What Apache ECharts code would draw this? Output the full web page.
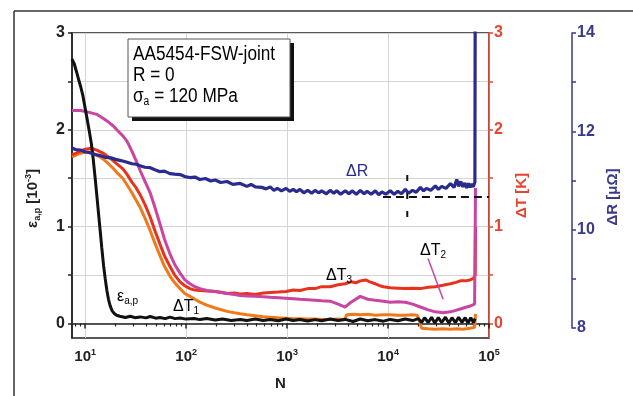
<!DOCTYPE html>
<html>
<head>
<meta charset="utf-8">
<script src="https://cdn.jsdelivr.net/npm/echarts@6/dist/echarts.min.js"></script>
<style>
  html, body { margin: 0; padding: 0; background: #fff; }
  #chart { width: 633px; height: 396px; }
</style>
</head>
<body>
<div id="chart"></div>
<script>
// ---- tick values ----
const decadeTicks = [10, 100, 1000, 10000, 100000];
const minorTicksN = [8, 9, 20, 30, 40, 50, 60, 70, 80, 90, 200, 300, 400, 500, 600, 700, 800, 900,
  2000, 3000, 4000, 5000, 6000, 7000, 8000, 9000, 20000, 30000, 40000, 50000, 60000, 70000, 80000, 90000];
const strainTicks = [0, 1, 2, 3];
const strainMinorTicks = [0, 0.5, 1, 1.5, 2, 2.5, 3];
const resistTicks = [8, 10, 12, 14];
const resistMinorTicks = [8, 9, 10, 11, 12, 13, 14];

// ---- series: [N, value] ----
const strainData = [
  [7.4, 2.73], [7.8, 2.68], [8.2, 2.6], [8.6, 2.52], [9, 2.45], [9.5, 2.35], [10, 2.22], [10.5, 2.1],
  [11, 1.98], [11.5, 1.86], [12, 1.7], [12.5, 1.52], [13.1, 1.3], [13.6, 1.12], [14.1, 0.95], [14.6, 0.78],
  [15.2, 0.6], [15.8, 0.46], [16.4, 0.34], [17, 0.25], [17.7, 0.18], [18.5, 0.13], [19.5, 0.1], [20.5, 0.085],
  [22, 0.075], [25, 0.062], [28, 0.075], [31, 0.06], [35, 0.068], [40, 0.058], [44, 0.072], [50, 0.055],
  [55, 0.062], [62, 0.05], [69, 0.066], [78, 0.05], [87, 0.056], [100, 0.045], [120, 0.052], [137, 0.04],
  [160, 0.052], [194, 0.035], [230, 0.047], [280, 0.03], [343, 0.042], [400, 0.03], [484, 0.046],
  [580, 0.03], [680, 0.042], [820, 0.028], [976, 0.046], [1150, 0.03], [1340, 0.042], [1600, 0.025],
  [1890, 0.04], [2200, 0.028], [2670, 0.046], [3200, 0.03], [3760, 0.042], [4500, 0.02], [5300, 0.046],
  [6300, 0.028], [7470, 0.04], [9000, 0.024], [10500, 0.042], [12500, 0.028], [14800, 0.046],
  [17500, 0.03], [20000, 0.05], [21500, 0.01], [23000, 0.06], [25000, 0.01], [27000, 0.065], [29000, 0.005],
  [31500, 0.06], [34000, 0.01], [37000, 0.065], [40000, 0.005], [43000, 0.06], [46500, 0.01], [50000, 0.065],
  [54000, 0.01], [58000, 0.06], [62000, 0.005], [66000, 0.06], [70000, 0.01], [73000, 0.05]
];
const dT1Data = [
  [7.4, 1.72], [8.5, 1.75], [10, 1.77], [11.5, 1.77], [13, 1.74], [15, 1.7], [17, 1.65], [19, 1.6],
  [21, 1.55], [23.5, 1.5], [26, 1.43], [29, 1.35], [32, 1.27], [35, 1.2], [39, 1.09], [44, 0.96],
  [49, 0.83], [55, 0.7], [61, 0.59], [69, 0.49], [77, 0.42], [87, 0.36], [97, 0.31], [109, 0.28],
  [122, 0.25], [137, 0.22], [160, 0.19], [194, 0.16], [254, 0.125], [300, 0.11], [343, 0.1], [400, 0.09],
  [484, 0.08], [580, 0.07], [680, 0.065], [820, 0.058], [976, 0.055], [1150, 0.05], [1340, 0.05],
  [1600, 0.045], [1890, 0.045], [2200, 0.04], [2670, 0.04], [3300, 0.045], [3700, 0.04], [3900, 0.09],
  [4600, 0.095], [5300, 0.09], [6300, 0.095], [7470, 0.085], [9000, 0.09], [10500, 0.09], [12500, 0.085],
  [14800, 0.085], [17500, 0.09], [19500, 0.085], [20500, 0.02], [21500, -0.05], [25000, -0.055],
  [29400, -0.06], [35000, -0.055], [41500, -0.06], [48000, -0.055], [55000, -0.06], [65000, -0.05],
  [72000, -0.04], [73500, 0.1]
];
const dT3Data = [
  [7.4, 1.74], [8.5, 1.77], [10, 1.8], [11.5, 1.81], [13, 1.79], [15, 1.76], [17, 1.72], [19, 1.68],
  [21, 1.64], [23.5, 1.6], [26, 1.54], [29, 1.46], [32, 1.4], [35, 1.33], [39, 1.23], [44, 1.1],
  [49, 0.96], [55, 0.82], [61, 0.7], [69, 0.59], [77, 0.5], [87, 0.43], [97, 0.39], [109, 0.36],
  [122, 0.345], [137, 0.34], [160, 0.335], [194, 0.33], [230, 0.32], [254, 0.31], [300, 0.315],
  [343, 0.305], [400, 0.31], [484, 0.3], [580, 0.315], [680, 0.32], [820, 0.325], [976, 0.33],
  [1150, 0.345], [1340, 0.34], [1600, 0.36], [1890, 0.36], [2200, 0.38], [2670, 0.38], [3200, 0.4],
  [3760, 0.41], [4300, 0.43], [4800, 0.42], [5300, 0.44], [6000, 0.45], [6600, 0.43], [7470, 0.41],
  [8300, 0.39], [9000, 0.38], [10500, 0.37], [12500, 0.365], [14800, 0.36], [17500, 0.365], [20900, 0.36],
  [25000, 0.375], [29400, 0.38], [35000, 0.395], [41500, 0.41], [47000, 0.425], [52000, 0.44],
  [58000, 0.44], [65000, 0.45], [70000, 0.465], [73000, 0.5], [73500, 1.0]
];
const dT2Data = [
  [7.4, 2.2], [9, 2.2], [11, 2.18], [13, 2.16], [15, 2.12], [17, 2.08], [19, 2.04], [21, 1.99],
  [23.5, 1.94], [26, 1.88], [29, 1.78], [32, 1.68], [35, 1.58], [39, 1.47], [44, 1.35], [49, 1.2],
  [55, 1.03], [61, 0.87], [69, 0.72], [77, 0.61], [87, 0.52], [97, 0.45], [109, 0.41], [122, 0.38],
  [137, 0.36], [160, 0.34], [194, 0.33], [254, 0.31], [300, 0.3], [343, 0.29], [400, 0.285], [484, 0.28],
  [580, 0.275], [680, 0.27], [820, 0.265], [976, 0.26], [1150, 0.255], [1340, 0.25], [1600, 0.245],
  [1890, 0.24], [2200, 0.235], [2670, 0.23], [3200, 0.2], [3760, 0.17], [4300, 0.22], [5300, 0.28],
  [6300, 0.25], [7470, 0.24], [9000, 0.23], [10500, 0.22], [12500, 0.225], [14800, 0.22], [17500, 0.2],
  [20900, 0.17], [25000, 0.14], [29400, 0.12], [35000, 0.11], [41500, 0.12], [47000, 0.135],
  [52000, 0.15], [58000, 0.165], [65000, 0.18], [72000, 0.2], [73000, 0.22], [73500, 1.4]
];
const dRData = [
  [7.4, 11.66], [8, 11.63], [9, 11.62], [10, 11.58], [11, 11.57], [12, 11.54], [13, 11.52], [14.5, 11.5],
  [16, 11.47], [18, 11.46], [20, 11.43], [22, 11.41], [24, 11.39], [26, 11.37], [29, 11.34], [32, 11.33],
  [35, 11.3], [39, 11.27], [44, 11.26], [49, 11.22], [55, 11.18], [61, 11.19], [69, 11.14], [77, 11.13],
  [87, 11.12], [97, 11.08], [109, 11.06], [122, 11.07], [137, 11.02], [155, 11.04], [175, 10.99], [194, 11.01],
  [220, 10.96], [254, 10.98], [290, 10.92], [343, 10.94], [400, 10.88], [440, 10.92], [484, 10.87], [560, 10.86],
  [620, 10.83], [680, 10.87], [740, 10.8], [800, 10.84], [880, 10.79], [976, 10.84], [1060, 10.78], [1150, 10.82],
  [1240, 10.77], [1340, 10.82], [1460, 10.75], [1600, 10.8], [1750, 10.74], [1890, 10.8], [2050, 10.75],
  [2200, 10.79], [2450, 10.73], [2670, 10.8], [2900, 10.74], [3100, 10.79], [3400, 10.72], [3760, 10.79],
  [4100, 10.73], [4400, 10.79], [4850, 10.72], [5300, 10.8], [5800, 10.73], [6200, 10.78], [6800, 10.72],
  [7470, 10.79], [8100, 10.71], [8700, 10.77], [9500, 10.72], [10500, 10.79], [11500, 10.72], [12500, 10.78],
  [13600, 10.73], [14800, 10.82], [16000, 10.74], [17500, 10.8], [19000, 10.76], [20900, 10.86], [22500, 10.79],
  [24000, 10.84], [26500, 10.8], [29400, 10.89], [31500, 10.82], [34000, 10.88], [37500, 10.84], [41500, 10.94],
  [45000, 10.86], [48000, 11.02], [50000, 10.88], [52500, 10.98], [55000, 10.87], [57500, 10.95],
  [60000, 10.85], [62500, 10.94], [65000, 10.86], [67500, 10.93], [70000, 10.87], [72500, 10.97], [73000, 14.6]
];
const dRLevelData = [[8900, 10.665], [100000, 10.665]];
const dRErrorData = [[15500, 11.11], [15500, 10.16]];
const dT2PointerData = [[24900, 0.67], [35100, 0.25]];

const COLORS = {
  strain: '#111111', dT1: '#f07a1a', dT2: '#c9459f', dT3: '#e8321e', dR: '#2b2b8f',
  redAxis: '#e5452f', blueAxis: '#3a3a8c'
};
const FONT = 'Liberation Sans';

const chartDom = document.getElementById('chart');
const chart = echarts.init(chartDom);

const tickLabelRich = {
  b: { fontFamily: FONT, fontSize: 15, fontWeight: 'bold', color: '#222' },
  e: { fontFamily: FONT, fontSize: 9, fontWeight: 'bold', color: '#222', padding: [0, 0, 9, 0] }
};

function lineSeries(name, data, color, xIdx, yIdx, width) {
  return {
    name: name, type: 'line', data: data, xAxisIndex: xIdx, yAxisIndex: yIdx,
    showSymbol: false, symbol: 'none', silent: true,
    lineStyle: { color: color, width: width || 3 }
  };
}

function subLabel(main, sub, color) {
  return {
    text: '{m|' + main + '}{s|' + sub + '}', verticalAlign: 'middle',
    rich: {
      m: { fontFamily: FONT, fontSize: 16, color: color },
      s: { fontFamily: FONT, fontSize: 10, color: color, padding: [8, 0, 0, 0] }
    }
  };
}

const option = {
  animation: false,
  grid: [
    { left: 72, right: 144, top: 33, bottom: 54, show: true, borderColor: '#222', borderWidth: 1.5 },
    // ΔR axis only spans 8..14
    { left: 72, right: 144, top: 33, bottom: 68 }
  ],
  xAxis: [{
    type: 'log', min: 7.4, max: 100000, position: 'bottom', gridIndex: 0,
    name: 'N', nameLocation: 'middle', nameGap: 38,
    nameTextStyle: { fontFamily: FONT, fontSize: 15, fontWeight: 'bold', color: '#222' },
    axisLine: { lineStyle: { color: '#222', width: 1.5 } },
    axisTick: { customValues: decadeTicks, length: 5, lineStyle: { color: '#222', width: 1.5 } },
    axisLabel: {
      customValues: decadeTicks, margin: 10,
      formatter: v => '{b|10}{e|' + Math.round(Math.log10(v)) + '}',
      rich: tickLabelRich
    },
    splitLine: { show: true, lineStyle: { color: '#d4d4d4', width: 1 } }
  }, {
    type: 'log', min: 7.4, max: 100000, position: 'bottom', gridIndex: 0,
    axisLine: { show: false },
    axisTick: { customValues: minorTicksN, length: 3, lineStyle: { color: '#222', width: 1.2 } },
    axisLabel: { show: false },
    splitLine: { show: false }
  }, {
    type: 'log', min: 7.4, max: 100000, gridIndex: 1, show: false
  }],
  yAxis: [{
    type: 'value', min: -0.15, max: 3, splitNumber: 3, position: 'left', gridIndex: 0,
    name: '{g|ε}{s|a,p}{g| [10}{p|-3}{g|]}', nameLocation: 'middle', nameGap: 30,
    nameTextStyle: {
      padding: [0, 26, 0, 0],
      rich: {
        g: { fontFamily: FONT, fontSize: 15, fontWeight: 'bold', color: '#222' },
        s: { fontFamily: FONT, fontSize: 9, fontWeight: 'bold', color: '#222', padding: [9, 0, 0, 0] },
        p: { fontFamily: FONT, fontSize: 9, fontWeight: 'bold', color: '#222', padding: [0, 0, 9, 0] }
      }
    },
    axisLine: { show: true, lineStyle: { color: '#222', width: 1.5 } },
    axisTick: { show: true, customValues: strainMinorTicks, length: 4, lineStyle: { color: '#222', width: 1.5 } },
    axisLabel: { customValues: strainTicks, margin: 7, fontFamily: FONT, fontSize: 16, fontWeight: 'bold', color: '#222' },
    splitLine: { show: true, lineStyle: { color: '#d4d4d4', width: 1 } }
  }, {
    type: 'value', min: -0.15, max: 3, splitNumber: 3, position: 'right', gridIndex: 0,
    name: 'ΔT [K]', nameLocation: 'middle', nameGap: 25, nameRotate: 90,
    nameTextStyle: { fontFamily: FONT, fontSize: 15, fontWeight: 'bold', color: COLORS.redAxis, padding: [0, 20, 0, 0] },
    axisLine: { show: true, lineStyle: { color: COLORS.redAxis, width: 1.5 } },
    axisTick: { show: true, customValues: strainMinorTicks, length: 4, lineStyle: { color: COLORS.redAxis, width: 1.5 } },
    axisLabel: { customValues: strainTicks, margin: 5, fontFamily: FONT, fontSize: 16, fontWeight: 'bold', color: COLORS.redAxis },
    splitLine: { show: false }
  }, {
    type: 'value', min: 8, max: 14, position: 'right', offset: 83, gridIndex: 1,
    name: 'ΔR [μΩ]', nameLocation: 'middle', nameGap: 32, nameRotate: 90,
    nameTextStyle: { fontFamily: FONT, fontSize: 15, fontWeight: 'bold', color: COLORS.blueAxis, padding: [0, 33, 0, 0] },
    axisLine: { show: true, lineStyle: { color: COLORS.blueAxis, width: 1.5 } },
    axisTick: { show: true, customValues: resistMinorTicks, length: 4, lineStyle: { color: COLORS.blueAxis, width: 1.5 } },
    axisLabel: { customValues: resistTicks, margin: 5, fontFamily: FONT, fontSize: 16, fontWeight: 'bold', color: COLORS.blueAxis },
    splitLine: { show: false }
  }],
  series: [
    lineSeries('ΔT1', dT1Data, COLORS.dT1, 0, 1),
    lineSeries('ΔT3', dT3Data, COLORS.dT3, 0, 1),
    lineSeries('ΔT2', dT2Data, COLORS.dT2, 0, 1),
    lineSeries('εa,p', strainData, COLORS.strain, 0, 0),
    lineSeries('ΔR', dRData, COLORS.dR, 2, 2, 3.2),
    Object.assign(lineSeries('ΔR level', dRLevelData, '#111', 2, 2, 2), { lineStyle: { color: '#111', width: 2, type: [8, 5] } }),
    Object.assign(lineSeries('ΔR scatter', dRErrorData, '#111', 2, 2, 2), { lineStyle: { color: '#111', width: 2, type: [6, 12] } }),
    lineSeries('ΔT2 pointer', dT2PointerData, COLORS.dT2, 0, 1, 1.5)
  ],
  graphic: [
    // outer frame
    { type: 'line', shape: { x1: 14, y1: 11, x2: 633, y2: 11 }, style: { stroke: '#333', lineWidth: 1.5 } },
    { type: 'line', shape: { x1: 14, y1: 11, x2: 14, y2: 396 }, style: { stroke: '#333', lineWidth: 1.5 } },
    // info box
    { type: 'rect', shape: { x: 132, y: 43, width: 162, height: 78 }, style: { fill: '#111' }, z: 100 },
    { type: 'rect', shape: { x: 128, y: 39, width: 162, height: 78 }, style: { fill: '#fff', stroke: '#555', lineWidth: 1 }, z: 101 },
    {
      type: 'text', x: 133, y: 44, scaleX: 0.86, z: 102,
      style: {
        text: '{t|AA5454-FSW-joint}\n{t|R = 0}\n{t|σ}{u|a}{t| = 120 MPa}',
        rich: {
          t: { fontFamily: FONT, fontSize: 20, color: '#222', lineHeight: 21 },
          u: { fontFamily: FONT, fontSize: 12, color: '#222', padding: [10, 0, 0, 0], lineHeight: 21 }
        }
      }
    },
    // curve labels
    { type: 'text', x: 346, y: 172, z: 110, style: { text: 'ΔR', fill: COLORS.dR, font: '16px Liberation Sans', verticalAlign: 'middle' } },
    { type: 'text', x: 326, y: 276, z: 110, style: subLabel('ΔT', '3', COLORS.dT3) },
    { type: 'text', x: 420, y: 251, z: 110, style: subLabel('ΔT', '2', COLORS.dT2) },
    { type: 'text', x: 117, y: 297, z: 110, style: subLabel('ε', 'a,p', '#111') },
    { type: 'text', x: 173, y: 307, z: 110, style: subLabel('ΔT', '1', COLORS.dT1) }
  ]
};

chart.setOption(option);
window.addEventListener('resize', () => chart.resize());
</script>
</body>
</html>
